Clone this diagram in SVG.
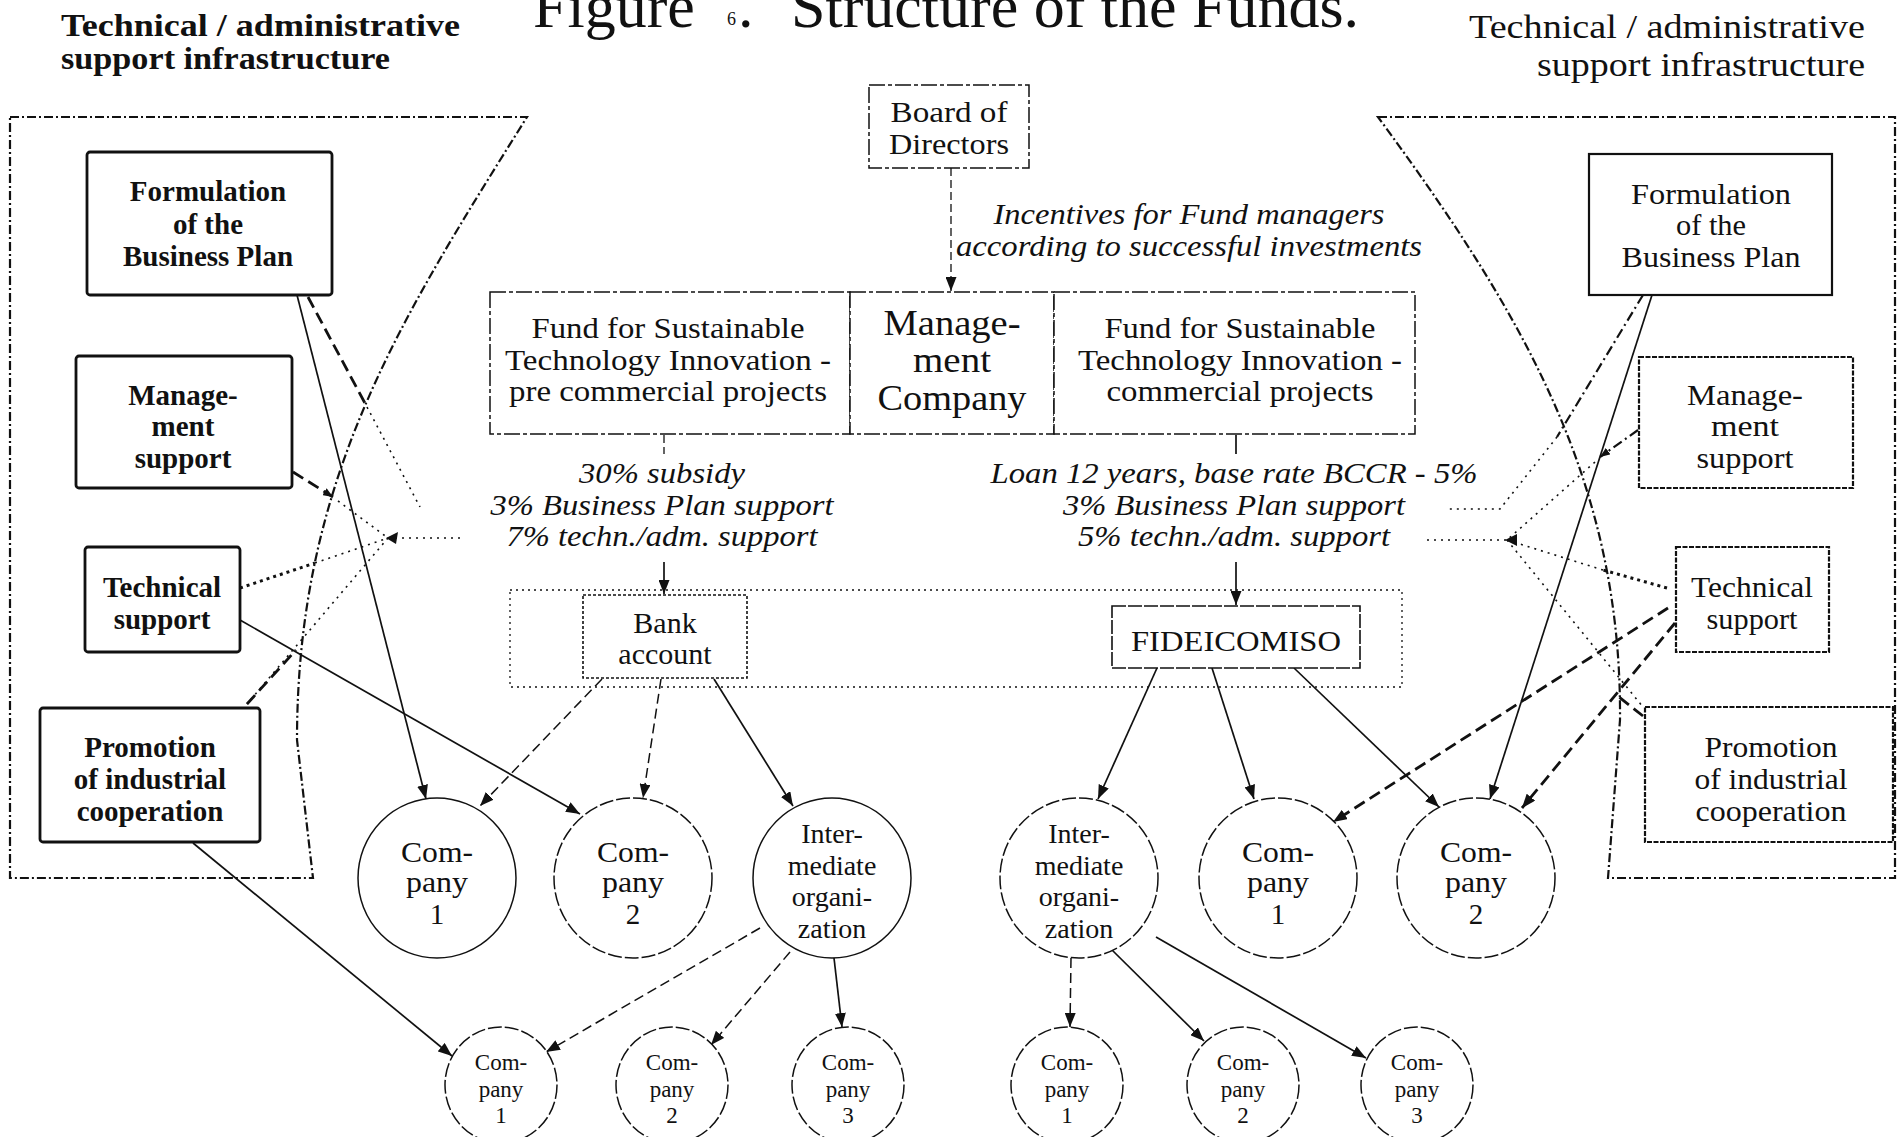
<svg xmlns="http://www.w3.org/2000/svg" width="1899" height="1137" viewBox="0 0 1899 1137">
<defs>
<style>
.t{font-family:"Liberation Serif","Times New Roman",serif;fill:#111}
.b{font-weight:bold}
.i{font-style:italic}
.m{text-anchor:middle}
.e{text-anchor:end}
.bl{fill:#fff;stroke:#111;stroke-width:2.8}
.br{fill:#fff;stroke:#111;stroke-width:2.2;stroke-dasharray:5 1.5}
.brs{fill:#fff;stroke:#111;stroke-width:2.2}
.cb{fill:#fff;stroke:#111;stroke-width:1.5;stroke-dasharray:16 3 4 3}
.ob{fill:none;stroke:#111;stroke-width:1.3;stroke-dasharray:2 4}
.trap{fill:none;stroke:#111;stroke-width:2.2;stroke-dasharray:9 3 2 3}
.el{fill:#fff;stroke:#111;stroke-width:1.5}
.eld{fill:#fff;stroke:#111;stroke-width:1.5;stroke-dasharray:14 3}
.s{fill:none;stroke:#111;stroke-width:1.7}
.d{fill:none;stroke:#111;stroke-width:1.5;stroke-dasharray:10 5}
.dt{fill:none;stroke:#111;stroke-width:1.3;stroke-dasharray:8 4}
.td{fill:none;stroke:#111;stroke-width:2.8;stroke-dasharray:12 6}
.dd{fill:none;stroke:#111;stroke-width:2.2;stroke-dasharray:10 4 2 4}
.p{fill:none;stroke:#111;stroke-width:1.6;stroke-dasharray:2 5}
.tp{fill:none;stroke:#111;stroke-width:3;stroke-dasharray:3 4}
</style>
<marker id="ah" viewBox="0 0 14 11" refX="14" refY="5.5" markerWidth="14" markerHeight="11" markerUnits="userSpaceOnUse" orient="auto">
<path d="M0,0 L14,5.5 L0,11 z" fill="#111"/>
</marker>
<marker id="ahs" viewBox="0 0 10 8" refX="10" refY="4" markerWidth="10" markerHeight="8" markerUnits="userSpaceOnUse" orient="auto">
<path d="M0,0 L10,4 L0,8 z" fill="#111"/>
</marker>
</defs>
<rect width="1899" height="1137" fill="#fff"/>

<g id="headers">
<text class="t b" x="61" y="36" font-size="32" textLength="399" lengthAdjust="spacingAndGlyphs">Technical / administrative</text>
<text class="t b" x="61" y="69" font-size="32" textLength="329" lengthAdjust="spacingAndGlyphs">support infrastructure</text>
<text class="t" x="533" y="27" font-size="62">Figure</text>
<text class="t" x="727" y="25" font-size="18">6</text>
<text class="t" x="738" y="27" font-size="62">.</text>
<text class="t" x="791" y="27" font-size="62" textLength="568" lengthAdjust="spacingAndGlyphs">Structure of the Funds.</text>
<text class="t e" x="1865" y="38" font-size="33" textLength="396" lengthAdjust="spacingAndGlyphs">Technical / administrative</text>
<text class="t e" x="1865" y="76" font-size="33" textLength="328" lengthAdjust="spacingAndGlyphs">support infrastructure</text>
</g>

<g id="regions">
<path class="trap" d="M10,117 L527,117 C400,320 297,480 297,740 L313,878 L10,878 Z"/>
<path class="trap" d="M1378,117 L1895,117 L1895,878 L1608,878 L1620,720 C1622,480 1520,310 1378,117 Z"/>
<rect class="ob" x="510" y="590" width="892" height="97"/>
</g>

<g id="connectors">
<path class="dt" d="M951,168 V291" marker-end="url(#ah)"/>
<path class="dt" d="M664,435 V454"/>
<path class="s" d="M1236,435 V454"/>
<path class="s" d="M664,562 V594" marker-end="url(#ah)"/>
<path class="s" d="M1236,562 V605" marker-end="url(#ah)"/>
<path class="d" d="M602,679 L480,806" marker-end="url(#ah)"/>
<path class="d" d="M661,679 L643,798" marker-end="url(#ah)"/>
<path class="s" d="M714,679 L793,806" marker-end="url(#ah)"/>
<path class="s" d="M1157,668 L1098,799" marker-end="url(#ah)"/>
<path class="s" d="M1212,668 L1254,799" marker-end="url(#ah)"/>
<path class="s" d="M1294,668 L1439,807" marker-end="url(#ah)"/>
<path class="d" d="M760,928 L546,1052" marker-end="url(#ah)"/>
<path class="d" d="M790,952 L711,1045" marker-end="url(#ah)"/>
<path class="s" d="M834,958 L842,1027" marker-end="url(#ah)"/>
<path class="d" d="M1071,958 L1070,1027" marker-end="url(#ah)"/>
<path class="s" d="M1112,950 L1204,1041" marker-end="url(#ah)"/>
<path class="s" d="M1156,937 L1366,1058" marker-end="url(#ah)"/>
<path class="s" d="M193,843 L452,1056" marker-end="url(#ah)"/>
<path class="s" d="M297,295 L426,799" marker-end="url(#ah)"/>
<path class="s" d="M240,620 L580,814" marker-end="url(#ah)"/>
<path class="td" d="M308,297 L367,407"/>
<path class="p" d="M367,407 L420,507"/>
<path class="td" d="M293,472 L333,497" marker-end="url(#ahs)"/>
<path class="p" d="M338,501 L388,538"/>
<path class="p" d="M388,538 L463,538"/>
<polygon points="386,538 398,532 396,544" fill="#111"/>
<path class="tp" d="M240,588 L315,563"/>
<path class="p" d="M315,563 L388,538"/>
<path class="p" d="M388,538 L247,704"/>
<path class="td" d="M247,704 L296,650"/>
<path class="s" d="M1652,295 L1490,799" marker-end="url(#ah)"/>
<path class="dd" d="M1643,295 L1557,437"/>
<path class="p" d="M1557,437 L1500,509 L1447,509"/>
<path class="dd" d="M1638,430 L1600,457" marker-end="url(#ahs)"/>
<path class="p" d="M1595,462 L1507,540"/>
<path class="p" d="M1427,540 L1507,540"/>
<polygon points="1505,540 1517,534 1517,546" fill="#111"/>
<path class="tp" d="M1667,588 L1603,570"/>
<path class="p" d="M1603,570 L1507,540"/>
<path class="p" d="M1507,540 L1643,707"/>
<path class="td" d="M1643,716 L1619,697"/>
<path class="td" d="M1668,608 L1333,822" marker-end="url(#ah)"/>
<path class="td" d="M1675,623 L1522,808" marker-end="url(#ah)"/>
</g>

<g id="formulation-left">
<rect class="bl" x="87" y="152" width="245" height="143" rx="3"/>
<text class="t b m" x="208" y="201" font-size="29">Formulation</text>
<text class="t b m" x="208" y="234" font-size="29">of the</text>
<text class="t b m" x="208" y="266" font-size="29">Business Plan</text>
</g>
<g id="management-left">
<rect class="bl" x="76" y="356" width="216" height="132" rx="3"/>
<text class="t b m" x="183" y="405" font-size="29">Manage-</text>
<text class="t b m" x="183" y="436" font-size="29">ment</text>
<text class="t b m" x="183" y="468" font-size="29">support</text>
</g>
<g id="technical-left">
<rect class="bl" x="85" y="547" width="155" height="105" rx="3"/>
<text class="t b m" x="162" y="597" font-size="29">Technical</text>
<text class="t b m" x="162" y="629" font-size="29">support</text>
</g>
<g id="promotion-left">
<rect class="bl" x="40" y="708" width="220" height="134" rx="3"/>
<text class="t b m" x="150" y="757" font-size="29">Promotion</text>
<text class="t b m" x="150" y="789" font-size="29">of industrial</text>
<text class="t b m" x="150" y="821" font-size="29">cooperation</text>
</g>

<g id="formulation-right">
<rect class="brs" x="1589" y="154" width="243" height="141"/>
<text class="t m" x="1711" y="204" font-size="30" textLength="160" lengthAdjust="spacingAndGlyphs">Formulation</text>
<text class="t m" x="1711" y="235" font-size="30" textLength="70" lengthAdjust="spacingAndGlyphs">of the</text>
<text class="t m" x="1711" y="267" font-size="30" textLength="179" lengthAdjust="spacingAndGlyphs">Business Plan</text>
</g>
<g id="management-right">
<rect class="br" x="1639" y="357" width="214" height="131"/>
<text class="t m" x="1745" y="405" font-size="30" textLength="116" lengthAdjust="spacingAndGlyphs">Manage-</text>
<text class="t m" x="1745" y="436" font-size="30" textLength="68" lengthAdjust="spacingAndGlyphs">ment</text>
<text class="t m" x="1745" y="468" font-size="30" textLength="97" lengthAdjust="spacingAndGlyphs">support</text>
</g>
<g id="technical-right">
<rect class="br" x="1676" y="547" width="153" height="105"/>
<text class="t m" x="1752" y="597" font-size="30" textLength="122" lengthAdjust="spacingAndGlyphs">Technical</text>
<text class="t m" x="1752" y="629" font-size="30" textLength="91" lengthAdjust="spacingAndGlyphs">support</text>
</g>
<g id="promotion-right">
<rect class="br" x="1645" y="707" width="248" height="135"/>
<text class="t m" x="1771" y="757" font-size="30" textLength="133" lengthAdjust="spacingAndGlyphs">Promotion</text>
<text class="t m" x="1771" y="789" font-size="30" textLength="153" lengthAdjust="spacingAndGlyphs">of industrial</text>
<text class="t m" x="1771" y="821" font-size="30" textLength="151" lengthAdjust="spacingAndGlyphs">cooperation</text>
</g>

<g id="board">
<rect class="cb" x="869" y="85" width="160" height="83"/>
<text class="t m" x="949" y="122" font-size="29" textLength="117" lengthAdjust="spacingAndGlyphs">Board of</text>
<text class="t m" x="949" y="154" font-size="29" textLength="120" lengthAdjust="spacingAndGlyphs">Directors</text>
</g>
<g id="incentives-label">
<text class="t i m" x="1189" y="224" font-size="30" textLength="391" lengthAdjust="spacingAndGlyphs">Incentives for Fund managers</text>
<text class="t i m" x="1189" y="256" font-size="30" textLength="466" lengthAdjust="spacingAndGlyphs">according to successful investments</text>
</g>

<g id="fund-precommercial">
<rect class="cb" x="490" y="292" width="360" height="142"/>
<text class="t m" x="668" y="338" font-size="30" textLength="273" lengthAdjust="spacingAndGlyphs">Fund for Sustainable</text>
<text class="t m" x="668" y="370" font-size="30" textLength="326" lengthAdjust="spacingAndGlyphs">Technology Innovation -</text>
<text class="t m" x="668" y="401" font-size="30" textLength="318" lengthAdjust="spacingAndGlyphs">pre commercial projects</text>
</g>
<g id="management-company">
<rect class="cb" x="850" y="292" width="204" height="142"/>
<text class="t m" x="952" y="335" font-size="35" textLength="137" lengthAdjust="spacingAndGlyphs">Manage-</text>
<text class="t m" x="952" y="372" font-size="35" textLength="78" lengthAdjust="spacingAndGlyphs">ment</text>
<text class="t m" x="952" y="410" font-size="35" textLength="149" lengthAdjust="spacingAndGlyphs">Company</text>
</g>
<g id="fund-commercial">
<rect class="cb" x="1054" y="292" width="361" height="142"/>
<text class="t m" x="1240" y="338" font-size="30" textLength="271" lengthAdjust="spacingAndGlyphs">Fund for Sustainable</text>
<text class="t m" x="1240" y="370" font-size="30" textLength="324" lengthAdjust="spacingAndGlyphs">Technology Innovation -</text>
<text class="t m" x="1240" y="401" font-size="30" textLength="267" lengthAdjust="spacingAndGlyphs">commercial projects</text>
</g>

<g id="terms-left">
<text class="t i m" x="662" y="483" font-size="30" textLength="166" lengthAdjust="spacingAndGlyphs">30% subsidy</text>
<text class="t i m" x="662" y="515" font-size="30" textLength="343" lengthAdjust="spacingAndGlyphs">3% Business Plan support</text>
<text class="t i m" x="662" y="546" font-size="30" textLength="311" lengthAdjust="spacingAndGlyphs">7% techn./adm. support</text>
</g>
<g id="terms-right">
<text class="t i m" x="1234" y="483" font-size="30" textLength="487" lengthAdjust="spacingAndGlyphs">Loan 12 years, base rate BCCR - 5%</text>
<text class="t i m" x="1234" y="515" font-size="30" textLength="342" lengthAdjust="spacingAndGlyphs">3% Business Plan support</text>
<text class="t i m" x="1234" y="546" font-size="30" textLength="312" lengthAdjust="spacingAndGlyphs">5% techn./adm. support</text>
</g>

<g id="bank-account">
<rect class="brs" x="583" y="595" width="164" height="83" style="stroke-width:1.6;stroke-dasharray:3 2"/>
<text class="t m" x="665" y="633" font-size="30">Bank</text>
<text class="t m" x="665" y="664" font-size="30">account</text>
</g>
<g id="fideicomiso">
<rect class="brs" x="1112" y="606" width="248" height="62" style="stroke-width:1.6;stroke-dasharray:14 2"/>
<text class="t m" x="1236" y="651" font-size="30" textLength="210" lengthAdjust="spacingAndGlyphs">FIDEICOMISO</text>
</g>

<g id="company1-left">
<ellipse class="el" cx="437" cy="878" rx="79" ry="80"/>
<text class="t m" x="437" y="862" font-size="29" textLength="72" lengthAdjust="spacingAndGlyphs">Com-</text>
<text class="t m" x="437" y="892" font-size="29" textLength="62" lengthAdjust="spacingAndGlyphs">pany</text>
<text class="t m" x="437" y="924" font-size="29">1</text>
</g>
<g id="company2-left">
<ellipse class="eld" cx="633" cy="878" rx="79" ry="80"/>
<text class="t m" x="633" y="862" font-size="29" textLength="72" lengthAdjust="spacingAndGlyphs">Com-</text>
<text class="t m" x="633" y="892" font-size="29" textLength="62" lengthAdjust="spacingAndGlyphs">pany</text>
<text class="t m" x="633" y="924" font-size="29">2</text>
</g>
<g id="intermediate-left">
<ellipse class="el" cx="832" cy="878" rx="79" ry="80"/>
<text class="t m" x="832" y="843" font-size="28">Inter-</text>
<text class="t m" x="832" y="875" font-size="28">mediate</text>
<text class="t m" x="832" y="906" font-size="28">organi-</text>
<text class="t m" x="832" y="938" font-size="28">zation</text>
</g>
<g id="intermediate-right">
<ellipse class="eld" cx="1079" cy="878" rx="79" ry="80"/>
<text class="t m" x="1079" y="843" font-size="28">Inter-</text>
<text class="t m" x="1079" y="875" font-size="28">mediate</text>
<text class="t m" x="1079" y="906" font-size="28">organi-</text>
<text class="t m" x="1079" y="938" font-size="28">zation</text>
</g>
<g id="company1-right">
<ellipse class="eld" cx="1278" cy="878" rx="79" ry="80"/>
<text class="t m" x="1278" y="862" font-size="29" textLength="72" lengthAdjust="spacingAndGlyphs">Com-</text>
<text class="t m" x="1278" y="892" font-size="29" textLength="62" lengthAdjust="spacingAndGlyphs">pany</text>
<text class="t m" x="1278" y="924" font-size="29">1</text>
</g>
<g id="company2-right">
<ellipse class="eld" cx="1476" cy="878" rx="79" ry="80"/>
<text class="t m" x="1476" y="862" font-size="29" textLength="72" lengthAdjust="spacingAndGlyphs">Com-</text>
<text class="t m" x="1476" y="892" font-size="29" textLength="62" lengthAdjust="spacingAndGlyphs">pany</text>
<text class="t m" x="1476" y="924" font-size="29">2</text>
</g>

<g id="sub-company1-left">
<ellipse class="eld" cx="501" cy="1085" rx="56" ry="58"/>
<text class="t m" x="501" y="1070" font-size="23">Com-</text>
<text class="t m" x="501" y="1097" font-size="23">pany</text>
<text class="t m" x="501" y="1123" font-size="23">1</text>
</g>
<g id="sub-company2-left">
<ellipse class="eld" cx="672" cy="1085" rx="56" ry="58"/>
<text class="t m" x="672" y="1070" font-size="23">Com-</text>
<text class="t m" x="672" y="1097" font-size="23">pany</text>
<text class="t m" x="672" y="1123" font-size="23">2</text>
</g>
<g id="sub-company3-left">
<ellipse class="eld" cx="848" cy="1085" rx="56" ry="58"/>
<text class="t m" x="848" y="1070" font-size="23">Com-</text>
<text class="t m" x="848" y="1097" font-size="23">pany</text>
<text class="t m" x="848" y="1123" font-size="23">3</text>
</g>
<g id="sub-company1-right">
<ellipse class="eld" cx="1067" cy="1085" rx="56" ry="58"/>
<text class="t m" x="1067" y="1070" font-size="23">Com-</text>
<text class="t m" x="1067" y="1097" font-size="23">pany</text>
<text class="t m" x="1067" y="1123" font-size="23">1</text>
</g>
<g id="sub-company2-right">
<ellipse class="eld" cx="1243" cy="1085" rx="56" ry="58"/>
<text class="t m" x="1243" y="1070" font-size="23">Com-</text>
<text class="t m" x="1243" y="1097" font-size="23">pany</text>
<text class="t m" x="1243" y="1123" font-size="23">2</text>
</g>
<g id="sub-company3-right">
<ellipse class="eld" cx="1417" cy="1085" rx="56" ry="58"/>
<text class="t m" x="1417" y="1070" font-size="23">Com-</text>
<text class="t m" x="1417" y="1097" font-size="23">pany</text>
<text class="t m" x="1417" y="1123" font-size="23">3</text>
</g>
</svg>
